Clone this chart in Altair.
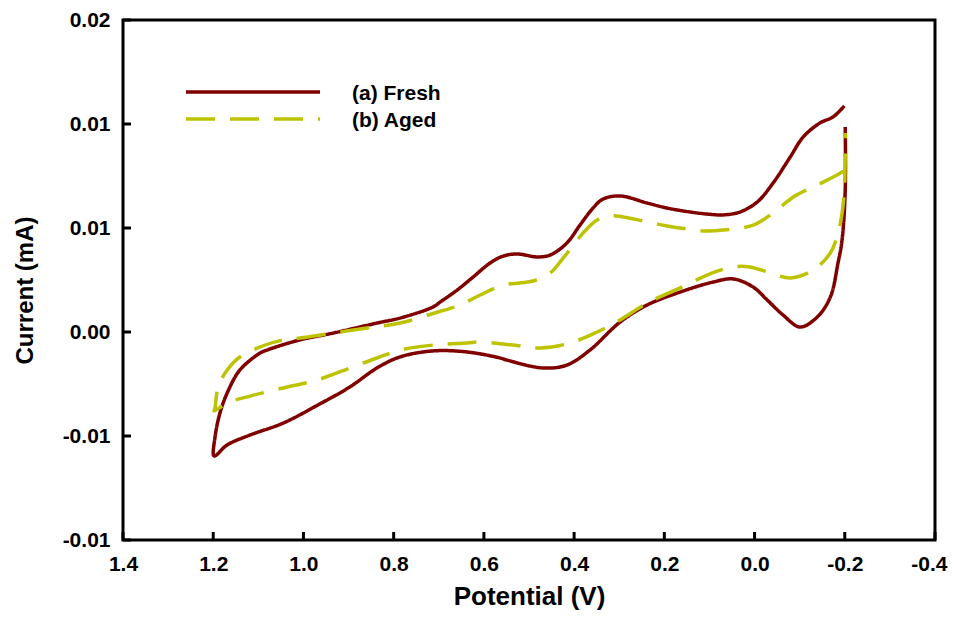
import altair as alt
import pandas as pd

# ---------------- data ----------------
series_names = ["(a) Fresh", "(b) Aged"]
series_colors = ["#800000", "#BDC300"]
series_dashes = [[1, 0], [29, 15]]

fresh_v = [-0.199, -0.174, -0.145, -0.108, -0.079, -0.041, -0.006, 0.032, 0.070, 0.105,
           0.143, 0.194, 0.238, 0.298, 0.336, 0.358, 0.387, 0.416, 0.453, 0.482,
           0.526, 0.557, 0.586, 0.624, 0.659, 0.697, 0.713, 0.786, 0.837, 0.934,
           1.008, 1.081, 1.096, 1.141, 1.169, 1.185, 1.196, 1.198,
           1.169, 1.118, 1.045, 0.968, 0.897, 0.837, 0.786, 0.713, 0.637, 0.564,
           0.549, 0.469, 0.416, 0.365, 0.298, 0.238, 0.165, 0.092, 0.047, 0.003,
           -0.028, -0.063, -0.101, -0.139, -0.168, -0.185, -0.194, -0.201, -0.201]
fresh_i = [0.01087, 0.01034, 0.01005, 0.00938, 0.00841, 0.00716, 0.00625, 0.00577, 0.00563, 0.00567,
           0.00577, 0.00596, 0.00620, 0.00654, 0.00639, 0.00596, 0.00514, 0.00428, 0.00370, 0.00361,
           0.00375, 0.00365, 0.00332, 0.00264, 0.00202, 0.00144, 0.00120, 0.00067, 0.00043, -0.00005,
           -0.00038, -0.00087, -0.00101, -0.00183, -0.00293, -0.00389, -0.00505, -0.00596,
           -0.00543, -0.00495, -0.00438, -0.00351, -0.00264, -0.00173, -0.00120, -0.00091, -0.00096, -0.00125,
           -0.00135, -0.00173, -0.00159, -0.00087, 0.00048, 0.00130, 0.00192, 0.00240, 0.00255, 0.00216,
           0.00154, 0.00082, 0.00024, 0.00072, 0.00168, 0.00332, 0.00442, 0.00683, 0.00986]

aged_v = [-0.201, -0.183, -0.139, -0.086, -0.041, 0.003, 0.070, 0.110, 0.149, 0.194,
          0.247, 0.291, 0.320, 0.349, 0.380, 0.424, 0.453, 0.491, 0.520, 0.557,
          0.608, 0.653, 0.702, 0.786, 0.859, 0.934, 1.008, 1.045, 1.096, 1.141,
          1.169, 1.189, 1.196, 1.198,
          1.169, 1.118, 1.045, 0.970, 0.897, 0.837, 0.786, 0.713, 0.637, 0.608,
          0.535, 0.475, 0.409, 0.349, 0.298, 0.238, 0.165, 0.105, 0.047, 0.010,
          -0.035, -0.079, -0.130, -0.168, -0.185, -0.194, -0.199, -0.201, -0.201]
aged_i = [0.00779, 0.00755, 0.00707, 0.00649, 0.00572, 0.00514, 0.00490, 0.00486, 0.00495, 0.00510,
          0.00534, 0.00553, 0.00558, 0.00538, 0.00476, 0.00356, 0.00284, 0.00245, 0.00236, 0.00226,
          0.00178, 0.00130, 0.00096, 0.00043, 0.00019, -0.00005, -0.00029, -0.00038, -0.00072, -0.00120,
          -0.00183, -0.00264, -0.00365, -0.00380,
          -0.00341, -0.00308, -0.00269, -0.00231, -0.00173, -0.00125, -0.00087, -0.00063, -0.00053, -0.00048,
          -0.00063, -0.00077, -0.00053, 0.00000, 0.00058, 0.00139, 0.00212, 0.00274, 0.00313, 0.00313,
          0.00284, 0.00260, 0.00298, 0.00380, 0.00476, 0.00572, 0.00683, 0.00841, 0.00957]

x_tick_values = [1.4, 1.2, 1.0, 0.8, 0.6, 0.4, 0.2, 0.0, -0.2, -0.4]
x_tick_labels = ["1.4", "1.2", "1.0", "0.8", "0.6", "0.4", "0.2", "0.0", "-0.2", "-0.4"]
y_tick_values = [-0.01, -0.005, 0.0, 0.005, 0.01, 0.015]
y_tick_labels = ["-0.01", "-0.01", "0.00", "0.01", "0.01", "0.02"]

x_title = "Potential (V)"
y_title = "Current (mA)"

# ---------------- table ----------------
rows = []
for name, vs, cs in [(series_names[0], fresh_v, fresh_i), (series_names[1], aged_v, aged_i)]:
    for k, (v, c) in enumerate(zip(vs, cs)):
        rows.append({"V": v, "I": c, "series": name, "order": k})
df = pd.DataFrame(rows)

FONT = "Liberation Sans"
W, H = 812, 520
TICK = 8

x_label_expr = "[" + ",".join("'%s'" % s for s in x_tick_labels) + "][round((1.4 - datum.value) / 0.2)]"
y_label_expr = "[" + ",".join("'%s'" % s for s in y_tick_labels) + "][round((datum.value + 0.01) / 0.005)]"

common_axis = dict(grid=False, domain=False, ticks=False, labelPadding=13, labelFontSize=21,
                   labelFont=FONT, labelFontWeight="bold", labelColor="black",
                   labelFlush=False, labelOverlap=False,
                   titleFont=FONT, titleFontWeight="bold", titleColor="black")

x_scale = alt.Scale(domain=[-0.4, 1.4], reverse=True, nice=False, zero=False)
y_scale = alt.Scale(domain=[-0.01, 0.015], nice=False, zero=False)

lines = alt.Chart(df).mark_line(interpolate="catmull-rom", strokeWidth=3.5).encode(
    x=alt.X("V:Q", scale=x_scale, title=x_title,
            axis=alt.Axis(values=x_tick_values, labelExpr=x_label_expr,
                          labelAlign={"expr": "datum.value < -0.3 ? 'right' : 'center'"},
                          labelOffset={"expr": "datum.value < -0.3 ? 12 : 0"},
                          titleFontSize=26, titleX=W / 2, titleY=64,
                          titleBaseline="alphabetic", titleAlign="center",
                          **common_axis)),
    y=alt.Y("I:Q", scale=y_scale, title=y_title,
            axis=alt.Axis(values=y_tick_values, labelExpr=y_label_expr,
                          titleFontSize=24, titleX=-86, titleY=270,
                          titleAngle=270, titleBaseline="bottom", titleAlign="center",
                          **common_axis)),
    color=alt.Color("series:N", scale=alt.Scale(domain=series_names, range=series_colors), legend=None),
    strokeDash=alt.StrokeDash("series:N", scale=alt.Scale(domain=series_names, range=series_dashes), legend=None),
    order="order:Q",
)

# inward tick marks, placed through the chart's own scales
x_ticks = alt.Chart(pd.DataFrame({"V": x_tick_values})).mark_rule(strokeWidth=3, color="black").encode(
    x=alt.X("V:Q", scale=x_scale, title=x_title), y=alt.value(H), y2=alt.value(H - TICK))
y_ticks = alt.Chart(pd.DataFrame({"I": y_tick_values})).mark_rule(strokeWidth=3, color="black").encode(
    y=alt.Y("I:Q", scale=y_scale, title=y_title), x=alt.value(0), x2=alt.value(TICK))

layers = [lines, x_ticks, y_ticks]
for k, name in enumerate(series_names):
    one = pd.DataFrame({"label": [name]})
    layers.append(
        alt.Chart(one).mark_rule(strokeWidth=3.5).encode(
            x=alt.value(63), x2=alt.value(197), y=alt.value(72 + 27 * k),
            color=alt.value(series_colors[k]), strokeDash=alt.value(series_dashes[k]))
    )
    layers.append(
        alt.Chart(one).mark_text(align="left", baseline="middle", font=FONT, fontSize=21,
                                 fontWeight="bold", color="black").encode(
            x=alt.value(229), y=alt.value(74 + 27 * k), text="label:N")
    )

chart = alt.layer(*layers).properties(
    width=W, height=H,
    autosize=alt.AutoSizeParams(type="none"),
    padding={"left": 115, "top": 12, "right": 13, "bottom": 70},
).configure_view(stroke="black", strokeWidth=3)

chart.save("out.html", embed_options={"renderer": "svg", "actions": False})
